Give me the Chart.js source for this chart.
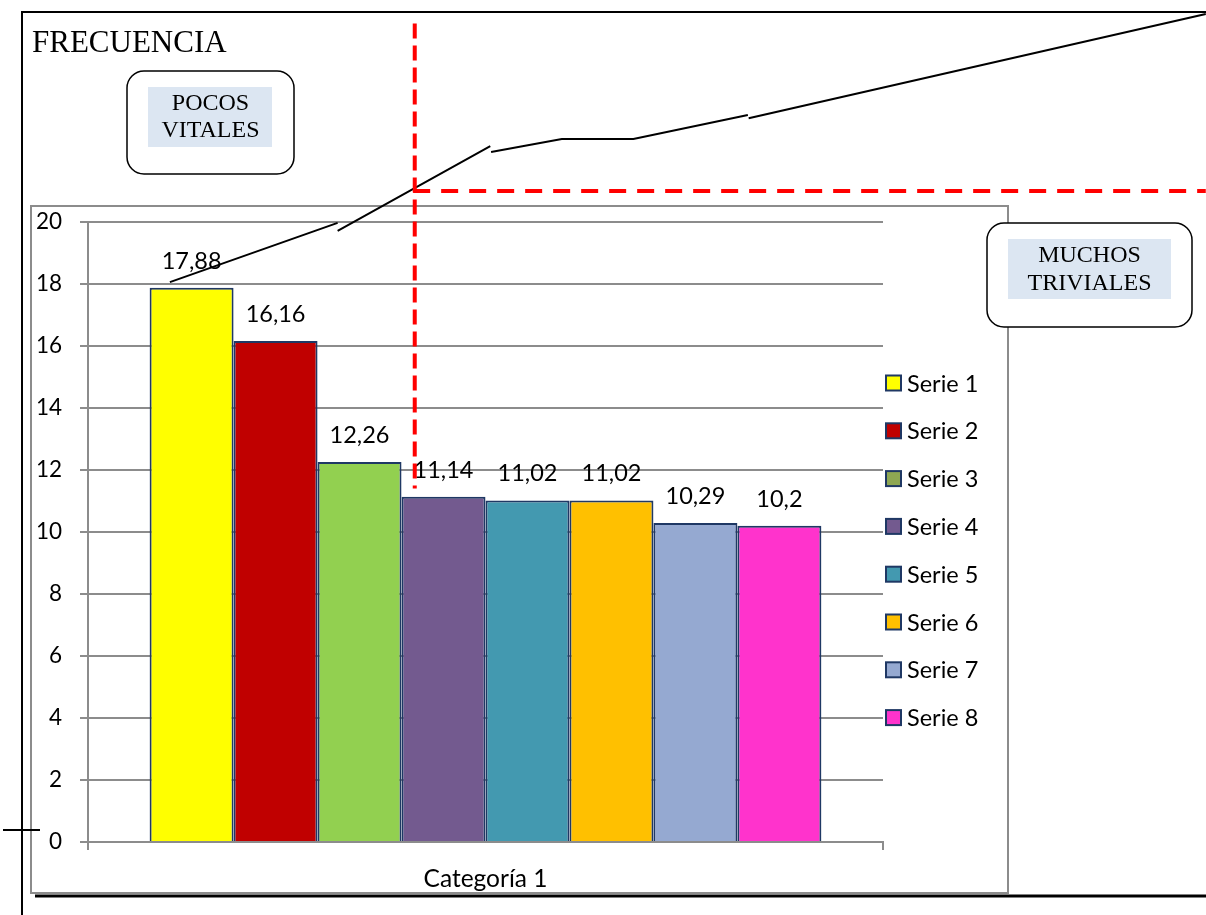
<!DOCTYPE html>
<html>
<head>
<meta charset="utf-8">
<title>Frecuencia - Pareto</title>
<script src="https://cdn.jsdelivr.net/npm/chart.js@4.4.1/dist/chart.umd.min.js"></script>
<style>
  html, body { margin: 0; padding: 0; background: #fff; }
  #wrap { position: relative; width: 1206px; height: 915px; }
</style>
</head>
<body>
<div id="wrap"><canvas id="paretoChart" width="1206" height="915"></canvas></div>
<script>
// chart data
const categories = ['Categoría 1'];
const seriesNames = ['Serie 1', 'Serie 2', 'Serie 3', 'Serie 4', 'Serie 5', 'Serie 6', 'Serie 7', 'Serie 8'];
const seriesValues = [17.88, 16.16, 12.26, 11.14, 11.02, 11.02, 10.29, 10.2];
const yMin = 0, yMax = 20, yStep = 2;

// hand drawn cumulative line, x in % of plot width, y in chart units (null = break)
const trendX = [10.3, 31.4, 31.4, 31.4, 50.6, 50.6, 50.7, 59.6, 68.6, 83.0, 83.0, 83.1, 140.6];
const trendY = [18.06, 19.97, null, 19.71, 22.45, null, 22.26, 22.68, 22.68, 23.45, null, 23.35, 26.71];

// red divider (same units)
const cutX = [41.1, 41.1];
const cutY = [26.4, 11.4];
const levelX = [40.9, 140.6];
const levelY = [21.0, 21.0];

const barColors = ['#FFFF00', '#C00000', '#92D050', '#735A8F', '#4399B0', '#FFC000', '#95A9D1', '#FF33CC'];
const legendColors = ['#FFFF00', '#C00000', '#8EA752', '#735A8F', '#4399B0', '#FFC000', '#95A9D1', '#FF33CC'];
const edgeColor = '#1F3864';
const gridColor = '#8c8c8c';
const sansFont = "Lato, 'DejaVu Sans', sans-serif";
const serifFont = "'Liberation Serif', 'Times New Roman', serif";

Chart.defaults.font.family = sansFont;
Chart.defaults.font.size = 22.5;
Chart.defaults.color = '#000';

function roundBox(ctx, x, y, w, h, r) {
    ctx.beginPath();
    ctx.moveTo(x + r, y);
    ctx.arcTo(x + w, y, x + w, y + h, r);
    ctx.arcTo(x + w, y + h, x, y + h, r);
    ctx.arcTo(x, y + h, x, y, r);
    ctx.arcTo(x, y, x + w, y, r);
    ctx.closePath();
}

function noteBox(ctx, box, inner, lines, firstBase, lineGap) {
    roundBox(ctx, box[0], box[1], box[2], box[3], 17);
    ctx.fillStyle = '#fff';
    ctx.fill();
    ctx.lineWidth = 1.5;
    ctx.strokeStyle = '#000';
    ctx.stroke();
    ctx.fillStyle = '#DCE6F2';
    ctx.fillRect(inner[0], inner[1], inner[2], inner[3]);
    ctx.fillStyle = '#000';
    ctx.font = '24px ' + serifFont;
    ctx.textAlign = 'center';
    ctx.textBaseline = 'alphabetic';
    const cx = box[0] + box[2] / 2;
    lines.forEach((t, i) => ctx.fillText(t, cx, firstBase + i * lineGap));
}

// polyline through the chart scales, null y breaks the path
function drawPath(chart, xs, ys, color, width, dash) {
    const sx = chart.scales.xp, sy = chart.scales.y;
    const ctx = chart.ctx;
    ctx.save();
    ctx.strokeStyle = color;
    ctx.lineWidth = width;
    ctx.setLineDash(dash);
    ctx.beginPath();
    let open = false;
    xs.forEach((x, i) => {
        if (ys[i] === null) { open = false; return; }
        const px = sx.getPixelForValue(x), py = sy.getPixelForValue(ys[i]);
        if (open) ctx.lineTo(px, py); else ctx.moveTo(px, py);
        open = true;
    });
    ctx.stroke();
    ctx.restore();
}

// page frame and chart border, under everything
const framePlugin = {
    id: 'frame',
    beforeDraw(chart) {
        const ctx = chart.ctx;
        ctx.save();
        ctx.fillStyle = '#fff';
        ctx.fillRect(0, 0, chart.width, chart.height);
        ctx.strokeStyle = gridColor;
        ctx.lineWidth = 2;
        ctx.strokeRect(31, 206, 977, 687);
        ctx.strokeStyle = '#000';
        ctx.beginPath();
        ctx.moveTo(21, 12); ctx.lineTo(1206, 12);
        ctx.moveTo(22, 11); ctx.lineTo(22, 915);
        ctx.moveTo(3, 830); ctx.lineTo(40, 830);
        ctx.stroke();
        ctx.lineWidth = 3;
        ctx.beginPath();
        ctx.moveTo(35, 896); ctx.lineTo(1206, 896);
        ctx.stroke();
        ctx.restore();
    }
};

// values above the bars
const valueLabels = {
    id: 'valueLabels',
    afterDatasetsDraw(chart) {
        const ctx = chart.ctx;
        ctx.save();
        ctx.font = '23.5px ' + sansFont;
        ctx.fillStyle = '#000';
        ctx.textAlign = 'center';
        ctx.textBaseline = 'alphabetic';
        chart.data.datasets.forEach((ds, i) => {
            const bar = chart.getDatasetMeta(i).data[0];
            ctx.fillText(String(ds.data[0]).replace('.', ','), bar.x, bar.y - 19);
        });
        ctx.restore();
    }
};

// cumulative line and red dividers
const overlayLines = {
    id: 'overlayLines',
    afterDatasetsDraw(chart) {
        drawPath(chart, trendX, trendY, '#000', 2, []);
        drawPath(chart, cutX, cutY, '#FF0000', 4, [15, 7]);
        drawPath(chart, levelX, levelY, '#FF0000', 4, [17, 11]);
    }
};

// legend drawn next to the plot
const sideLegend = {
    id: 'sideLegend',
    afterDraw(chart) {
        const ctx = chart.ctx;
        const area = chart.chartArea;
        ctx.save();
        ctx.font = '23.5px ' + sansFont;
        ctx.textAlign = 'left';
        ctx.textBaseline = 'middle';
        seriesNames.forEach((name, i) => {
            const y = area.top + 161 + i * 47.8;
            const x = area.right + 3;
            ctx.fillStyle = legendColors[i];
            ctx.fillRect(x, y - 7.5, 15, 15);
            ctx.strokeStyle = edgeColor;
            ctx.lineWidth = 2;
            ctx.strokeRect(x, y - 7.5, 15, 15);
            ctx.fillStyle = '#000';
            ctx.fillText(name, x + 21, y + 1);
        });
        ctx.restore();
    }
};

// title and the two text boxes
const notes = {
    id: 'notes',
    afterDraw(chart) {
        const ctx = chart.ctx;
        ctx.save();
        ctx.fillStyle = '#000';
        ctx.font = '31px ' + serifFont;
        ctx.textAlign = 'left';
        ctx.textBaseline = 'alphabetic';
        ctx.fillText('FRECUENCIA', 32, 52);
        noteBox(ctx, [127, 71, 167, 103], [148, 87, 124, 60], ['POCOS', 'VITALES'], 110, 27);
        noteBox(ctx, [987, 223, 205, 104], [1008, 239, 163, 60], ['MUCHOS', 'TRIVIALES'], 262, 28);
        ctx.restore();
    }
};

const barDatasets = seriesNames.map((name, i) => ({
    label: name,
    data: [seriesValues[i]],
    backgroundColor: barColors[i],
    borderColor: edgeColor,
    borderWidth: 2,
    categoryPercentage: 0.845,
    barPercentage: 1
}));

new Chart(document.getElementById('paretoChart'), {
    type: 'bar',
    data: { labels: categories, datasets: barDatasets },
    options: {
        responsive: false,
        animation: false,
        devicePixelRatio: 1,
        layout: { padding: { top: 222, right: 323, bottom: 0, left: 0 } },
        plugins: { legend: { display: false }, tooltip: { enabled: false } },
        scales: {
            x: {
                type: 'category',
                grid: { drawOnChartArea: false, tickLength: 8, color: gridColor, lineWidth: 2, offset: true },
                border: { color: gridColor, width: 2 },
                ticks: { padding: 14, font: { size: 24.5 } },
                afterFit: s => { s.height = 73; }
            },
            xp: { type: 'linear', min: 0, max: 100, offset: false, display: false },
            y: {
                min: yMin, max: yMax,
                ticks: { stepSize: yStep, padding: 18 },
                grid: { color: gridColor, lineWidth: 2, tickLength: 8 },
                border: { color: gridColor, width: 2 },
                afterFit: s => { s.width = 88; }
            }
        }
    },
    plugins: [framePlugin, valueLabels, overlayLines, sideLegend, notes]
});
</script>
</body>
</html>
